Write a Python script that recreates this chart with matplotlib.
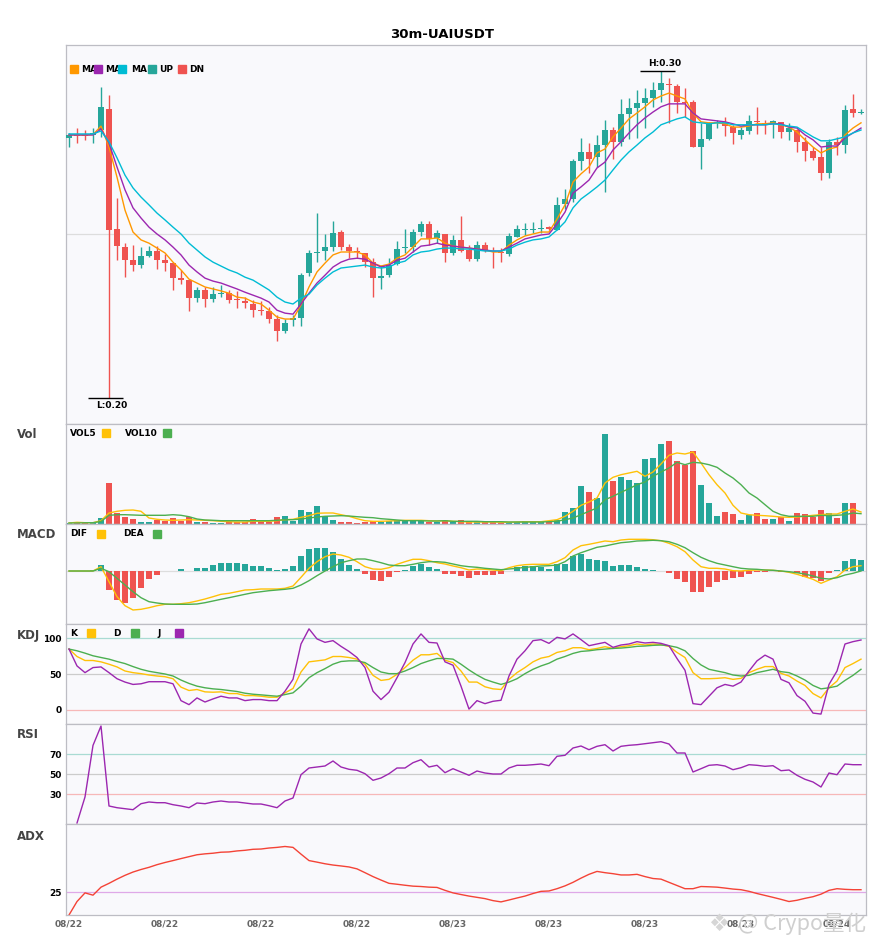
"""
30m UAIUSDT candlestick chart with Vol / MACD / KDJ / RSI / ADX panels
"""

import numpy as np
import matplotlib
matplotlib.use("Agg")
import matplotlib.pyplot as plt
from matplotlib.patches import Rectangle

# ==============================================================================
# 1.  DATA
# ==============================================================================

x_labels = ["08/22", "08/22", "08/22", "08/22", "08/23", "08/23", "08/23", "08/23", "08/24"]

opens = [
    0.2795, 0.2804, 0.2804, 0.2804, 0.2819, 0.2883, 0.2516, 0.2461, 0.2421, 0.2406,
    0.2434, 0.2449, 0.2421, 0.2412, 0.2366, 0.2360, 0.2305, 0.2330, 0.2302, 0.2317,
    0.2320, 0.2302, 0.2296, 0.2287, 0.2268, 0.2265, 0.2241, 0.2204, 0.2238, 0.2244,
    0.2382, 0.2443, 0.2449, 0.2461, 0.2507, 0.2461, 0.2449, 0.2443, 0.2415, 0.2366,
    0.2375, 0.2409, 0.2458, 0.2461, 0.2507, 0.2532, 0.2489, 0.2501, 0.2443, 0.2483,
    0.2452, 0.2424, 0.2467, 0.2449, 0.2446, 0.2440, 0.2492, 0.2513, 0.2513, 0.2516,
    0.2522, 0.2513, 0.2593, 0.2608, 0.2724, 0.2752, 0.2737, 0.2773, 0.2819, 0.2783,
    0.2868, 0.2887, 0.2902, 0.2917, 0.2942, 0.2960, 0.2954, 0.2905, 0.2905, 0.2767,
    0.2792, 0.2841, 0.2844, 0.2828, 0.2804, 0.2816, 0.2847, 0.2841, 0.2838, 0.2844,
    0.2813, 0.2819, 0.2783, 0.2755, 0.2737, 0.2688, 0.2783, 0.2773, 0.2883, 0.2871,
]
highs = [
    0.2810, 0.2825, 0.2819, 0.2825, 0.2951, 0.2926, 0.2611, 0.2473, 0.2467, 0.2461,
    0.2464, 0.2464, 0.2440, 0.2412, 0.2391, 0.2360, 0.2339, 0.2339, 0.2339, 0.2345,
    0.2330, 0.2327, 0.2308, 0.2299, 0.2296, 0.2278, 0.2253, 0.2241, 0.2253, 0.2382,
    0.2452, 0.2565, 0.2501, 0.2541, 0.2513, 0.2470, 0.2461, 0.2443, 0.2427, 0.2406,
    0.2427, 0.2480, 0.2516, 0.2516, 0.2541, 0.2541, 0.2513, 0.2501, 0.2498, 0.2556,
    0.2467, 0.2480, 0.2476, 0.2461, 0.2458, 0.2504, 0.2528, 0.2535, 0.2538, 0.2547,
    0.2525, 0.2614, 0.2639, 0.2731, 0.2795, 0.2779, 0.2804, 0.2850, 0.2828, 0.2914,
    0.2917, 0.2942, 0.2948, 0.2966, 0.3000, 0.2978, 0.2960, 0.2948, 0.2911, 0.2841,
    0.2844, 0.2850, 0.2859, 0.2835, 0.2828, 0.2865, 0.2890, 0.2850, 0.2850, 0.2844,
    0.2841, 0.2822, 0.2798, 0.2767, 0.2767, 0.2792, 0.2798, 0.2896, 0.2929, 0.2883,
]
lows = [
    0.2767, 0.2779, 0.2789, 0.2779, 0.2798, 0.2000, 0.2421, 0.2369, 0.2388, 0.2397,
    0.2431, 0.2394, 0.2388, 0.2330, 0.2348, 0.2265, 0.2293, 0.2278, 0.2293, 0.2308,
    0.2290, 0.2275, 0.2275, 0.2247, 0.2253, 0.2229, 0.2174, 0.2198, 0.2219, 0.2219,
    0.2372, 0.2415, 0.2421, 0.2449, 0.2452, 0.2427, 0.2427, 0.2400, 0.2308, 0.2333,
    0.2369, 0.2406, 0.2443, 0.2446, 0.2495, 0.2467, 0.2473, 0.2415, 0.2437, 0.2446,
    0.2418, 0.2418, 0.2446, 0.2397, 0.2415, 0.2434, 0.2492, 0.2498, 0.2504, 0.2504,
    0.2513, 0.2513, 0.2577, 0.2599, 0.2697, 0.2688, 0.2706, 0.2630, 0.2731, 0.2770,
    0.2792, 0.2795, 0.2825, 0.2890, 0.2905, 0.2841, 0.2871, 0.2859, 0.2767, 0.2700,
    0.2789, 0.2825, 0.2801, 0.2776, 0.2792, 0.2807, 0.2807, 0.2807, 0.2795, 0.2795,
    0.2789, 0.2752, 0.2724, 0.2727, 0.2666, 0.2672, 0.2743, 0.2749, 0.2859, 0.2868,
]
closes = [
    0.2804, 0.2801, 0.2801, 0.2810, 0.2890, 0.2513, 0.2464, 0.2421, 0.2406, 0.2434,
    0.2449, 0.2421, 0.2412, 0.2366, 0.2360, 0.2305, 0.2330, 0.2302, 0.2317, 0.2320,
    0.2299, 0.2299, 0.2290, 0.2268, 0.2265, 0.2241, 0.2204, 0.2229, 0.2244, 0.2375,
    0.2443, 0.2446, 0.2461, 0.2504, 0.2461, 0.2449, 0.2446, 0.2415, 0.2366, 0.2372,
    0.2406, 0.2455, 0.2461, 0.2507, 0.2532, 0.2486, 0.2504, 0.2443, 0.2483, 0.2449,
    0.2424, 0.2467, 0.2449, 0.2446, 0.2443, 0.2495, 0.2516, 0.2516, 0.2516, 0.2519,
    0.2516, 0.2590, 0.2608, 0.2724, 0.2752, 0.2731, 0.2773, 0.2819, 0.2783, 0.2868,
    0.2887, 0.2902, 0.2917, 0.2942, 0.2963, 0.2957, 0.2905, 0.2902, 0.2767, 0.2792,
    0.2841, 0.2844, 0.2831, 0.2810, 0.2819, 0.2847, 0.2844, 0.2838, 0.2847, 0.2813,
    0.2825, 0.2783, 0.2755, 0.2734, 0.2688, 0.2783, 0.2773, 0.2880, 0.2871, 0.2874,
]

ma5 = [
    0.2804, 0.2804, 0.2803, 0.2805, 0.2831, 0.2767, 0.2675, 0.2574, 0.2507, 0.2483,
    0.2473, 0.2458, 0.2443, 0.2415, 0.2391, 0.2363, 0.2351, 0.2339, 0.2333, 0.2327,
    0.2320, 0.2308, 0.2305, 0.2293, 0.2287, 0.2268, 0.2247, 0.2241, 0.2241, 0.2284,
    0.2339, 0.2385, 0.2412, 0.2437, 0.2446, 0.2446, 0.2446, 0.2437, 0.2412, 0.2403,
    0.2409, 0.2427, 0.2437, 0.2461, 0.2486, 0.2486, 0.2489, 0.2473, 0.2464, 0.2461,
    0.2458, 0.2455, 0.2452, 0.2446, 0.2446, 0.2467, 0.2483, 0.2495, 0.2501, 0.2507,
    0.2507, 0.2547, 0.2590, 0.2660, 0.2685, 0.2706, 0.2749, 0.2761, 0.2798, 0.2825,
    0.2853, 0.2871, 0.2890, 0.2911, 0.2923, 0.2932, 0.2923, 0.2914, 0.2871, 0.2844,
    0.2841, 0.2841, 0.2838, 0.2828, 0.2828, 0.2831, 0.2838, 0.2838, 0.2841, 0.2835,
    0.2828, 0.2813, 0.2789, 0.2767, 0.2749, 0.2761, 0.2767, 0.2804, 0.2825, 0.2841,
]
ma10 = [
    0.2804, 0.2804, 0.2804, 0.2804, 0.2822, 0.2779, 0.2706, 0.2636, 0.2581, 0.2550,
    0.2522, 0.2501, 0.2483, 0.2461, 0.2437, 0.2406, 0.2385, 0.2366, 0.2357, 0.2351,
    0.2342, 0.2333, 0.2323, 0.2314, 0.2305, 0.2293, 0.2268, 0.2259, 0.2256, 0.2287,
    0.2320, 0.2351, 0.2375, 0.2400, 0.2415, 0.2424, 0.2427, 0.2424, 0.2412, 0.2400,
    0.2406, 0.2421, 0.2427, 0.2446, 0.2464, 0.2467, 0.2473, 0.2467, 0.2464, 0.2461,
    0.2458, 0.2455, 0.2452, 0.2449, 0.2449, 0.2461, 0.2473, 0.2486, 0.2492, 0.2498,
    0.2501, 0.2532, 0.2568, 0.2626, 0.2645, 0.2666, 0.2703, 0.2721, 0.2758, 0.2783,
    0.2810, 0.2835, 0.2856, 0.2874, 0.2890, 0.2899, 0.2899, 0.2899, 0.2871, 0.2853,
    0.2850, 0.2847, 0.2844, 0.2838, 0.2831, 0.2835, 0.2835, 0.2835, 0.2838, 0.2838,
    0.2828, 0.2825, 0.2804, 0.2789, 0.2767, 0.2770, 0.2770, 0.2795, 0.2810, 0.2825,
]
ma20 = [
    0.2807, 0.2807, 0.2807, 0.2807, 0.2816, 0.2783, 0.2734, 0.2681, 0.2642, 0.2614,
    0.2590, 0.2565, 0.2544, 0.2522, 0.2501, 0.2473, 0.2452, 0.2431, 0.2415, 0.2403,
    0.2391, 0.2382, 0.2369, 0.2360, 0.2345, 0.2330, 0.2308, 0.2293, 0.2287, 0.2305,
    0.2317, 0.2345, 0.2366, 0.2385, 0.2397, 0.2400, 0.2403, 0.2406, 0.2400, 0.2397,
    0.2400, 0.2412, 0.2418, 0.2437, 0.2446, 0.2449, 0.2455, 0.2458, 0.2458, 0.2455,
    0.2455, 0.2452, 0.2449, 0.2449, 0.2449, 0.2455, 0.2467, 0.2476, 0.2483, 0.2486,
    0.2492, 0.2513, 0.2538, 0.2581, 0.2608, 0.2626, 0.2645, 0.2666, 0.2697, 0.2727,
    0.2752, 0.2773, 0.2795, 0.2813, 0.2835, 0.2844, 0.2853, 0.2859, 0.2844, 0.2841,
    0.2838, 0.2841, 0.2841, 0.2835, 0.2835, 0.2835, 0.2835, 0.2835, 0.2838, 0.2835,
    0.2831, 0.2828, 0.2813, 0.2798, 0.2786, 0.2786, 0.2792, 0.2798, 0.2810, 0.2819,
]

volume = [
    1.0, 2.0, 1.0, 2.0, 6.0, 41.3, 10.7, 7.3, 5.3, 2.3,
    2.3, 3.7, 2.7, 6.3, 2.7, 7.3, 2.3, 2.3, 1.3, 1.3,
    2.0, 2.0, 2.0, 5.0, 2.0, 2.0, 7.3, 8.3, 3.3, 14.3,
    12.3, 18.3, 7.7, 4.3, 2.3, 2.3, 1.3, 2.3, 3.3, 2.3,
    3.3, 4.3, 3.0, 4.3, 3.3, 2.3, 1.7, 4.3, 3.3, 4.3,
    1.7, 2.7, 1.7, 1.7, 1.0, 1.7, 2.3, 3.3, 2.3, 2.3,
    2.0, 4.3, 12.3, 16.0, 38.3, 32.3, 26.3, 90.3, 43.3, 47.3,
    44.3, 41.3, 65.3, 66.3, 80.3, 83.3, 63.3, 58.7, 73.3, 39.3,
    21.3, 8.3, 12.3, 10.3, 4.3, 9.3, 11.3, 5.3, 5.3, 7.3,
    3.3, 11.3, 10.3, 7.3, 14.3, 11.3, 6.3, 21.3, 21.3, 0.3,
]
vol5 = [
    1.0, 1.7, 1.3, 1.3, 3.3, 11.0, 12.7, 13.7, 14.0, 12.7,
    6.0, 4.7, 4.0, 3.7, 4.0, 4.3, 4.0, 3.7, 3.3, 2.7,
    2.3, 2.0, 2.0, 2.7, 2.7, 2.7, 3.3, 4.3, 4.7, 6.7,
    8.3, 10.7, 11.0, 11.0, 9.3, 7.7, 5.3, 3.3, 2.7, 2.7,
    3.0, 3.3, 3.7, 3.7, 3.7, 3.3, 3.0, 3.3, 2.7, 2.3,
    2.0, 2.0, 2.0, 2.0, 1.7, 1.7, 2.0, 2.3, 2.3, 2.3,
    3.3, 4.3, 7.7, 12.7, 18.7, 22.0, 26.0, 41.0, 46.7, 49.3,
    51.0, 52.7, 47.7, 52.0, 60.0, 68.7, 71.0, 70.0, 72.0, 61.0,
    49.3, 39.3, 31.0, 18.7, 11.0, 9.3, 8.7, 8.3, 7.7, 7.0,
    6.7, 7.0, 7.7, 8.7, 9.3, 10.0, 10.0, 12.7, 15.0, 12.0,
]
vol10 = [
    1.0, 1.0, 1.2, 1.3, 2.5, 8.7, 9.3, 9.3, 9.0, 8.7,
    8.7, 8.7, 8.7, 9.3, 8.7, 7.3, 5.0, 4.0, 3.7, 3.3,
    3.3, 3.3, 3.3, 3.3, 3.3, 3.3, 3.7, 4.3, 4.3, 5.0,
    6.0, 7.0, 7.7, 8.0, 8.3, 8.0, 7.3, 6.7, 6.3, 5.3,
    4.7, 4.0, 3.3, 3.3, 3.3, 3.0, 3.0, 3.3, 2.7, 2.7,
    2.7, 2.7, 2.3, 2.3, 2.3, 2.0, 2.0, 2.0, 2.0, 2.0,
    2.3, 2.7, 4.3, 6.0, 9.3, 12.7, 16.0, 24.3, 27.7, 31.7,
    35.3, 39.3, 42.0, 47.7, 52.0, 56.0, 61.7, 59.3, 61.7, 61.0,
    59.3, 56.7, 51.0, 46.0, 39.3, 31.0, 26.0, 19.3, 12.7, 9.3,
    7.7, 7.7, 7.7, 7.7, 8.7, 8.3, 8.7, 9.3, 11.0, 10.3,
]

macd_hist = [
    0, 0, 0, 0.0001, 0.0006, -0.0019, -0.0029, -0.00317, -0.00273, -0.00173,
    -0.00083, -0.0004, 0, 0, 0.0002, 0, 0.00027, 0.00027, 0.0006, 0.00083,
    0.00083, 0.00083, 0.0007, 0.0005, 0.0005, 0.00033, 0.0001, 0.0002, 0.0005, 0.0015,
    0.0022, 0.00233, 0.00227, 0.00193, 0.0012, 0.0006, 0.0002, -0.0003, -0.0009, -0.00097,
    -0.0006, -0.00007, 0.0001, 0.00053, 0.0007, 0.00037, 0.0002, -0.00033, -0.00027, -0.00047,
    -0.00067, -0.0004, -0.0004, -0.0004, -0.00027, 0, 0.00043, 0.00053, 0.00053, 0.00043,
    0.0002, 0.0007, 0.0007, 0.0015, 0.00167, 0.0012, 0.0011, 0.001, 0.0005, 0.0006,
    0.0006, 0.0004, 0.0002, 0.0001, 0, -0.00017, -0.0008, -0.00107, -0.00207, -0.00207,
    -0.0016, -0.0011, -0.0009, -0.00073, -0.00057, -0.00027, -0.00007, -0.00007, 0, -0.00013,
    0, -0.00023, -0.00057, -0.00073, -0.00097, -0.00017, 0.00007, 0.00103, 0.0012, 0.0011,
]
dif = [
    0, 0, 0, 0, 0.00043, -0.00107, -0.00257, -0.00347, -0.0039, -0.00383,
    -0.00367, -0.00347, -0.00333, -0.00333, -0.00327, -0.00317, -0.003, -0.0028, -0.00257, -0.00233,
    -0.00223, -0.00207, -0.0019, -0.00187, -0.0018, -0.0018, -0.0018, -0.00173, -0.0015, -0.00063,
    0.00027, 0.00093, 0.00143, 0.0017, 0.0016, 0.00137, 0.00093, 0.00043, 0.0002, 0.00017,
    0.00033, 0.00067, 0.00093, 0.00117, 0.00117, 0.00103, 0.00083, 0.0007, 0.0005, 0.00033,
    0.0001, 0.0002, 0.00017, 0.0001, 0.00003, 0.00033, 0.00053, 0.00063, 0.00067, 0.00067,
    0.00067, 0.00093, 0.00133, 0.0021, 0.00253, 0.00267, 0.00283, 0.003, 0.00293, 0.0031,
    0.00317, 0.00317, 0.00317, 0.00313, 0.00303, 0.00277, 0.00243, 0.00193, 0.0011, 0.00043,
    0.00027, 0.00027, 0.0002, 0.00003, 0, 0.00007, 0.0001, 0.0001, 0.00007, 0,
    -0.00013, -0.00033, -0.00057, -0.00083, -0.00123, -0.0009, -0.00057, 0.0001, 0.00043, 0.00053,
]
dea = [
    0, 0, 0, 0, 0.00027, -0.00007, -0.00073, -0.0014, -0.00207, -0.00267,
    -0.00307, -0.0032, -0.0033, -0.00333, -0.00333, -0.00333, -0.0033, -0.00317, -0.003, -0.00283,
    -0.00267, -0.0025, -0.00233, -0.00217, -0.00207, -0.00197, -0.0019, -0.00183, -0.00173, -0.0014,
    -0.00097, -0.00047, 0, 0.00043, 0.00083, 0.00103, 0.0012, 0.0012, 0.00103, 0.00083,
    0.0006, 0.00053, 0.00053, 0.00067, 0.00083, 0.00093, 0.00093, 0.00087, 0.0007, 0.00053,
    0.00043, 0.00037, 0.00027, 0.0002, 0.00013, 0.0002, 0.00027, 0.00037, 0.00043, 0.0005,
    0.00053, 0.0006, 0.00093, 0.0015, 0.00183, 0.0021, 0.00237, 0.0025, 0.00267, 0.00283,
    0.0029, 0.003, 0.00303, 0.00307, 0.00303, 0.00293, 0.00267, 0.00233, 0.00183, 0.00137,
    0.00103, 0.00077, 0.0006, 0.00043, 0.00027, 0.0002, 0.00017, 0.0001, 0.00007, 0,
    -0.00007, -0.00017, -0.0003, -0.0005, -0.00073, -0.0008, -0.00067, -0.0004, -0.00023, 0,
]

kdj_k = [
    84.9, 74.5, 68.9, 68.9, 67.0, 63.7, 59.9, 54.2, 51.9, 50.5,
    48.6, 47.2, 46.2, 43.4, 31.6, 26.9, 28.3, 25.0, 24.5, 25.0,
    22.6, 22.6, 19.8, 19.8, 18.9, 17.5, 17.5, 23.6, 29.7, 52.8,
    67.0, 68.4, 69.8, 74.5, 74.5, 73.1, 70.8, 63.7, 48.1, 41.0,
    42.5, 49.5, 59.0, 69.3, 76.9, 76.9, 78.8, 69.3, 66.0, 54.2,
    38.7, 38.7, 32.1, 29.2, 28.3, 42.5, 51.9, 59.0, 67.0, 72.2,
    74.5, 80.2, 82.5, 86.8, 86.8, 84.0, 85.8, 88.2, 85.8, 88.2,
    89.6, 92.0, 90.6, 92.0, 91.0, 88.7, 80.2, 73.1, 51.9, 43.4,
    43.4, 43.9, 44.8, 42.5, 43.9, 51.9, 56.6, 60.4, 60.4, 50.9,
    47.2, 40.1, 34.0, 22.6, 16.5, 30.7, 40.1, 59.0, 64.6, 70.8,
]
kdj_d = [
    84.9, 82.5, 79.2, 75.5, 73.1, 70.8, 67.5, 64.6, 60.4, 56.6,
    53.8, 51.9, 50.0, 47.2, 41.5, 36.8, 33.0, 30.7, 29.2, 28.3,
    26.9, 25.5, 23.1, 21.7, 20.8, 19.8, 18.9, 21.2, 23.6, 33.0,
    44.8, 51.9, 57.5, 63.7, 67.5, 68.4, 68.4, 66.0, 59.0, 52.8,
    50.5, 50.5, 54.2, 59.0, 64.6, 68.4, 71.7, 71.7, 70.8, 63.7,
    55.7, 48.6, 42.5, 38.7, 35.4, 38.7, 43.4, 50.5, 56.6, 61.3,
    65.1, 70.8, 74.5, 78.8, 81.6, 82.5, 84.0, 84.9, 85.8, 86.3,
    87.3, 88.7, 89.2, 90.1, 90.6, 89.6, 87.3, 82.5, 71.7, 62.7,
    56.6, 54.2, 51.9, 48.6, 47.2, 48.1, 51.9, 54.2, 56.6, 53.3,
    51.9, 47.2, 41.5, 34.0, 29.2, 30.7, 33.0, 41.0, 48.1, 56.6,
]
kdj_j = [
    84.9, 61.3, 51.9, 59.0, 59.9, 51.9, 43.4, 38.7, 35.4, 36.3,
    39.2, 39.2, 39.2, 36.3, 12.7, 7.1, 16.5, 10.8, 15.1, 18.9,
    16.5, 16.5, 12.7, 14.2, 14.2, 12.7, 12.7, 25.9, 42.5, 92.0,
    113.2, 99.1, 94.3, 96.7, 88.7, 81.6, 73.1, 59.0, 25.9, 14.2,
    24.5, 44.8, 66.0, 92.0, 106.1, 94.3, 93.4, 67.0, 62.3, 33.0,
    0.9, 12.7, 8.5, 11.8, 13.2, 47.2, 70.8, 82.5, 96.7, 98.1,
    92.9, 101.4, 99.1, 106.1, 98.1, 89.6, 92.0, 94.3, 87.3, 90.6,
    92.0, 95.3, 93.4, 94.3, 92.9, 89.6, 71.7, 55.2, 8.5, 7.1,
    18.9, 30.7, 35.4, 33.0, 38.7, 54.2, 68.4, 76.4, 70.8, 42.5,
    37.7, 19.8, 11.8, -4.7, -6.1, 35.4, 54.2, 92.0, 95.3, 97.6,
]

rsi = [
    np.nan, 1.0, 27.0, 78.6, 98.0, 18.0, 16.3, 15.3, 14.3, 20.3,
    22.0, 21.3, 21.3, 19.3, 18.0, 16.3, 21.0, 20.3, 22.0, 23.0,
    22.0, 22.0, 21.0, 20.0, 20.0, 18.3, 16.3, 23.0, 26.0, 49.3,
    56.0, 57.0, 58.0, 63.0, 57.0, 54.7, 53.7, 50.3, 43.7, 46.0,
    50.3, 56.0, 56.0, 61.3, 64.3, 57.0, 58.7, 51.3, 55.3, 52.0,
    48.7, 53.0, 51.0, 50.0, 50.0, 56.0, 58.7, 58.7, 59.3, 60.0,
    58.3, 67.7, 68.7, 76.0, 78.0, 74.3, 77.7, 79.3, 73.0, 77.7,
    78.7, 79.3, 80.3, 81.3, 82.3, 80.0, 71.0, 71.0, 52.0, 55.3,
    58.7, 59.3, 58.0, 54.3, 56.3, 59.3, 58.7, 57.7, 58.3, 53.3,
    54.0, 48.7, 44.7, 42.0, 37.0, 51.0, 49.3, 60.0, 59.3, 59.3,
]

adx = [
    0.0, 14.8, 24.3, 21.8, 30.6, 34.8, 39.4, 43.6, 47.2, 50.0,
    52.4, 55.3, 57.7, 59.8, 62.0, 64.1, 66.2, 67.2, 67.9, 69.0,
    69.3, 70.4, 71.1, 72.2, 72.5, 73.6, 74.3, 75.3, 74.3, 66.9,
    59.8, 58.1, 56.3, 54.9, 53.9, 52.8, 50.7, 46.5, 42.2, 38.4,
    34.8, 33.8, 32.7, 31.7, 31.3, 30.6, 30.3, 27.1, 24.3, 22.5,
    20.8, 19.4, 18.0, 15.8, 14.4, 16.5, 18.7, 20.8, 23.6, 26.0,
    26.4, 28.9, 32.0, 35.9, 40.5, 44.7, 47.9, 46.5, 45.4, 44.0,
    44.0, 44.7, 42.2, 40.1, 39.4, 35.9, 32.4, 28.9, 28.9, 31.3,
    31.0, 30.6, 29.6, 28.5, 27.8, 26.0, 23.6, 21.5, 19.4, 17.2,
    14.8, 16.2, 18.3, 20.1, 22.9, 27.1, 28.9, 28.2, 27.8, 27.8,
]

# ==============================================================================
# 2.  STYLE / LAYOUT
# ==============================================================================

UP, DN = "#26a69a", "#ef5350"
C_MA5, C_MA10, C_MA20 = "#ff9800", "#9c27b0", "#00bcd4"
C_YEL, C_GRN, C_PUR = "#ffc107", "#4caf50", "#9c27b0"
BG, SPINE = "#f9f9fc", "#bdbdc4"

W, H = 885, 950           # figure size in pixels
LEFT, RIGHT = 66, 866     # axes left / right edge in pixels

fig = plt.figure(figsize=(W / 100, H / 100), dpi=100)
fig.patch.set_facecolor("white")


def panel(top, bottom):
    ax = fig.add_axes([LEFT / W, 1 - bottom / H, (RIGHT - LEFT) / W, (bottom - top) / H])
    ax.set_facecolor(BG)
    for s in ax.spines.values():
        s.set_color(SPINE)
        s.set_linewidth(0.9)
    ax.set_xlim(-0.375, 99.625)
    ax.set_xticks([])
    ax.set_yticks([])
    ax.tick_params(length=0)
    ax._h_px = bottom - top
    return ax


def key_text(ax, x_px, y_px, s):
    ax.text((x_px - LEFT) / (RIGHT - LEFT), 1 - y_px / ax._h_px, s, transform=ax.transAxes,
            fontsize=6.5, fontweight="bold", va="center", ha="left", zorder=6)


def key_box(ax, x_px, y_px, color):
    h = 8 / ax._h_px
    ax.add_patch(Rectangle(((x_px - LEFT) / (RIGHT - LEFT), 1 - y_px / ax._h_px - h / 2),
                           8 / (RIGHT - LEFT), h, transform=ax.transAxes,
                           color=color, zorder=7, clip_on=False))


def side_label(y_px, s):
    fig.text(17 / W, 1 - y_px / H, s, fontsize=8.5, fontweight="bold", color="#444444", va="center")


idx = np.arange(len(closes))
o, hi, lo, c = map(np.array, (opens, highs, lows, closes))
col = np.where(c >= o, UP, DN)

# ==============================================================================
# 3.  PRICE PANEL
# ==============================================================================
ax_p = panel(45, 424)
ax_p.set_ylim(0.1920, 0.3079)
ax_p.axhline(0.25, color="#dddddd", lw=0.9, zorder=0)
ax_p.vlines(idx, lo, hi, colors=col, lw=1.0, zorder=2)
ax_p.bar(idx, np.maximum(np.abs(c - o), 0.0004), bottom=np.minimum(o, c),
         width=0.72, color=col, zorder=3)
ax_p.plot(idx, ma5, color=C_MA5, lw=1.0, zorder=4)
ax_p.plot(idx, ma10, color=C_MA10, lw=1.0, zorder=4)
ax_p.plot(idx, ma20, color=C_MA20, lw=1.0, zorder=4)

i_hi, i_lo = int(np.argmax(hi)), int(np.argmin(lo))
ax_p.hlines(hi[i_hi], i_hi - 2.6, i_hi + 1.8, color="black", lw=1.0, zorder=5)
ax_p.annotate(f"H:{hi[i_hi]:.2f}", (i_hi + 0.4, hi[i_hi]), xytext=(0, 2), textcoords="offset points",
              ha="center", va="bottom", fontsize=6.5, fontweight="bold")
ax_p.hlines(lo[i_lo], i_lo - 2.6, i_lo + 1.8, color="black", lw=1.0, zorder=5)
ax_p.annotate(f"L:{lo[i_lo]:.2f}", (i_lo + 0.4, lo[i_lo]), xytext=(0, -2), textcoords="offset points",
              ha="center", va="top", fontsize=6.5, fontweight="bold")

for x_box, x_txt, txt, color in [(70, 81, "MA", C_MA5), (94, 105, "MA", C_MA10),
                                 (118, 131, "MA", C_MA20), (148, 159, "UP", UP), (178, 189, "DN", DN)]:
    key_box(ax_p, x_box, 24, color)
    key_text(ax_p, x_txt, 24, txt)

# ==============================================================================
# 4.  VOLUME
# ==============================================================================
ax_v = panel(424, 524)
ax_v.bar(idx, volume, width=0.72, color=col)
ax_v.plot(idx, vol5, color=C_YEL, lw=1.0)
ax_v.plot(idx, vol10, color=C_GRN, lw=1.0)
ax_v.set_ylim(0, 100)
key_text(ax_v, 70, 9, "VOL5")
key_box(ax_v, 102, 9, C_YEL)
key_text(ax_v, 125, 9, "VOL10")
key_box(ax_v, 163, 9, C_GRN)
side_label(435, "Vol")

# ==============================================================================
# 5.  MACD
# ==============================================================================
ax_m = panel(524, 624)
hist = np.array(macd_hist)
ax_m.axhline(0, color="#dddddd", lw=0.9, zorder=0)
ax_m.bar(idx, hist, width=0.72, color=np.where(hist >= 0, UP, DN))
ax_m.plot(idx, dif, color=C_YEL, lw=1.0)
ax_m.plot(idx, dea, color=C_GRN, lw=1.0)
ax_m.set_ylim(-0.0053, 0.0047)
key_text(ax_m, 70, 10, "DIF")
key_box(ax_m, 97, 10, C_YEL)
key_text(ax_m, 123, 10, "DEA")
key_box(ax_m, 153, 10, C_GRN)
side_label(535, "MACD")

# ==============================================================================
# 6.  KDJ
# ==============================================================================
ax_k = panel(624, 724)
ax_k.axhline(100, color="#a9dbd3", lw=0.9, zorder=0)
ax_k.axhline(50, color="#cccccc", lw=0.9, zorder=0)
ax_k.axhline(0, color="#f7b8b8", lw=0.9, zorder=0)
ax_k.plot(idx, kdj_k, color=C_YEL, lw=1.0)
ax_k.plot(idx, kdj_d, color=C_GRN, lw=1.0)
ax_k.plot(idx, kdj_j, color=C_PUR, lw=1.0)
ax_k.set_ylim(-20, 120)
ax_k.set_yticks([0, 50, 100])
ax_k.set_yticklabels(["0", "50", "100"], fontsize=6.5, fontweight="bold")
ax_k.tick_params(axis="y", length=0, pad=3)
key_text(ax_k, 70, 9, "K")
key_box(ax_k, 87, 9, C_YEL)
key_text(ax_k, 113, 9, "D")
key_box(ax_k, 131, 9, C_GRN)
key_text(ax_k, 157, 9, "J")
key_box(ax_k, 175, 9, C_PUR)
side_label(635, "KDJ")

# ==============================================================================
# 7.  RSI
# ==============================================================================
ax_r = panel(724, 824)
ax_r.axhline(70, color="#a9dbd3", lw=0.9, zorder=0)
ax_r.axhline(50, color="#cccccc", lw=0.9, zorder=0)
ax_r.axhline(30, color="#f7b8b8", lw=0.9, zorder=0)
ax_r.plot(idx, rsi, color=C_PUR, lw=1.0)
ax_r.set_ylim(0, 100)
ax_r.set_yticks([30, 50, 70])
ax_r.set_yticklabels(["30", "50", "70"], fontsize=6.5, fontweight="bold")
ax_r.tick_params(axis="y", length=0, pad=3)
side_label(735, "RSI")

# ==============================================================================
# 8.  ADX
# ==============================================================================
ax_a = panel(824, 915)
ax_a.axhline(25, color="#dfa9e8", lw=0.9, zorder=0)
ax_a.plot(idx, adx, color="#f44336", lw=1.0)
ax_a.set_ylim(0, 100)
ax_a.set_yticks([25])
ax_a.set_yticklabels(["25"], fontsize=6.5, fontweight="bold")
ax_a.set_xticks(idx[::12])
ax_a.set_xticklabels(x_labels, fontsize=6.5, fontweight="bold", color="#666666")
ax_a.tick_params(length=0, pad=3)
side_label(836, "ADX")

# ── title & watermark ──
fig.text(0.5, 1 - 34 / H, "30m-UAIUSDT", ha="center", va="center", fontsize=9.5, fontweight="bold")
fig.text(719 / W, 1 - 924 / H, "❖", ha="center", va="center", fontsize=17,
         color="#d6d6d6", family="DejaVu Sans", zorder=10)
fig.text(738 / W, 1 - 924 / H, "@ Crypo量化", ha="left", va="center", fontsize=15.5,
         color="#cfcfcf", family=["Noto Sans CJK SC", "DejaVu Sans"], zorder=10)

fig.savefig("out.png", dpi=100)
